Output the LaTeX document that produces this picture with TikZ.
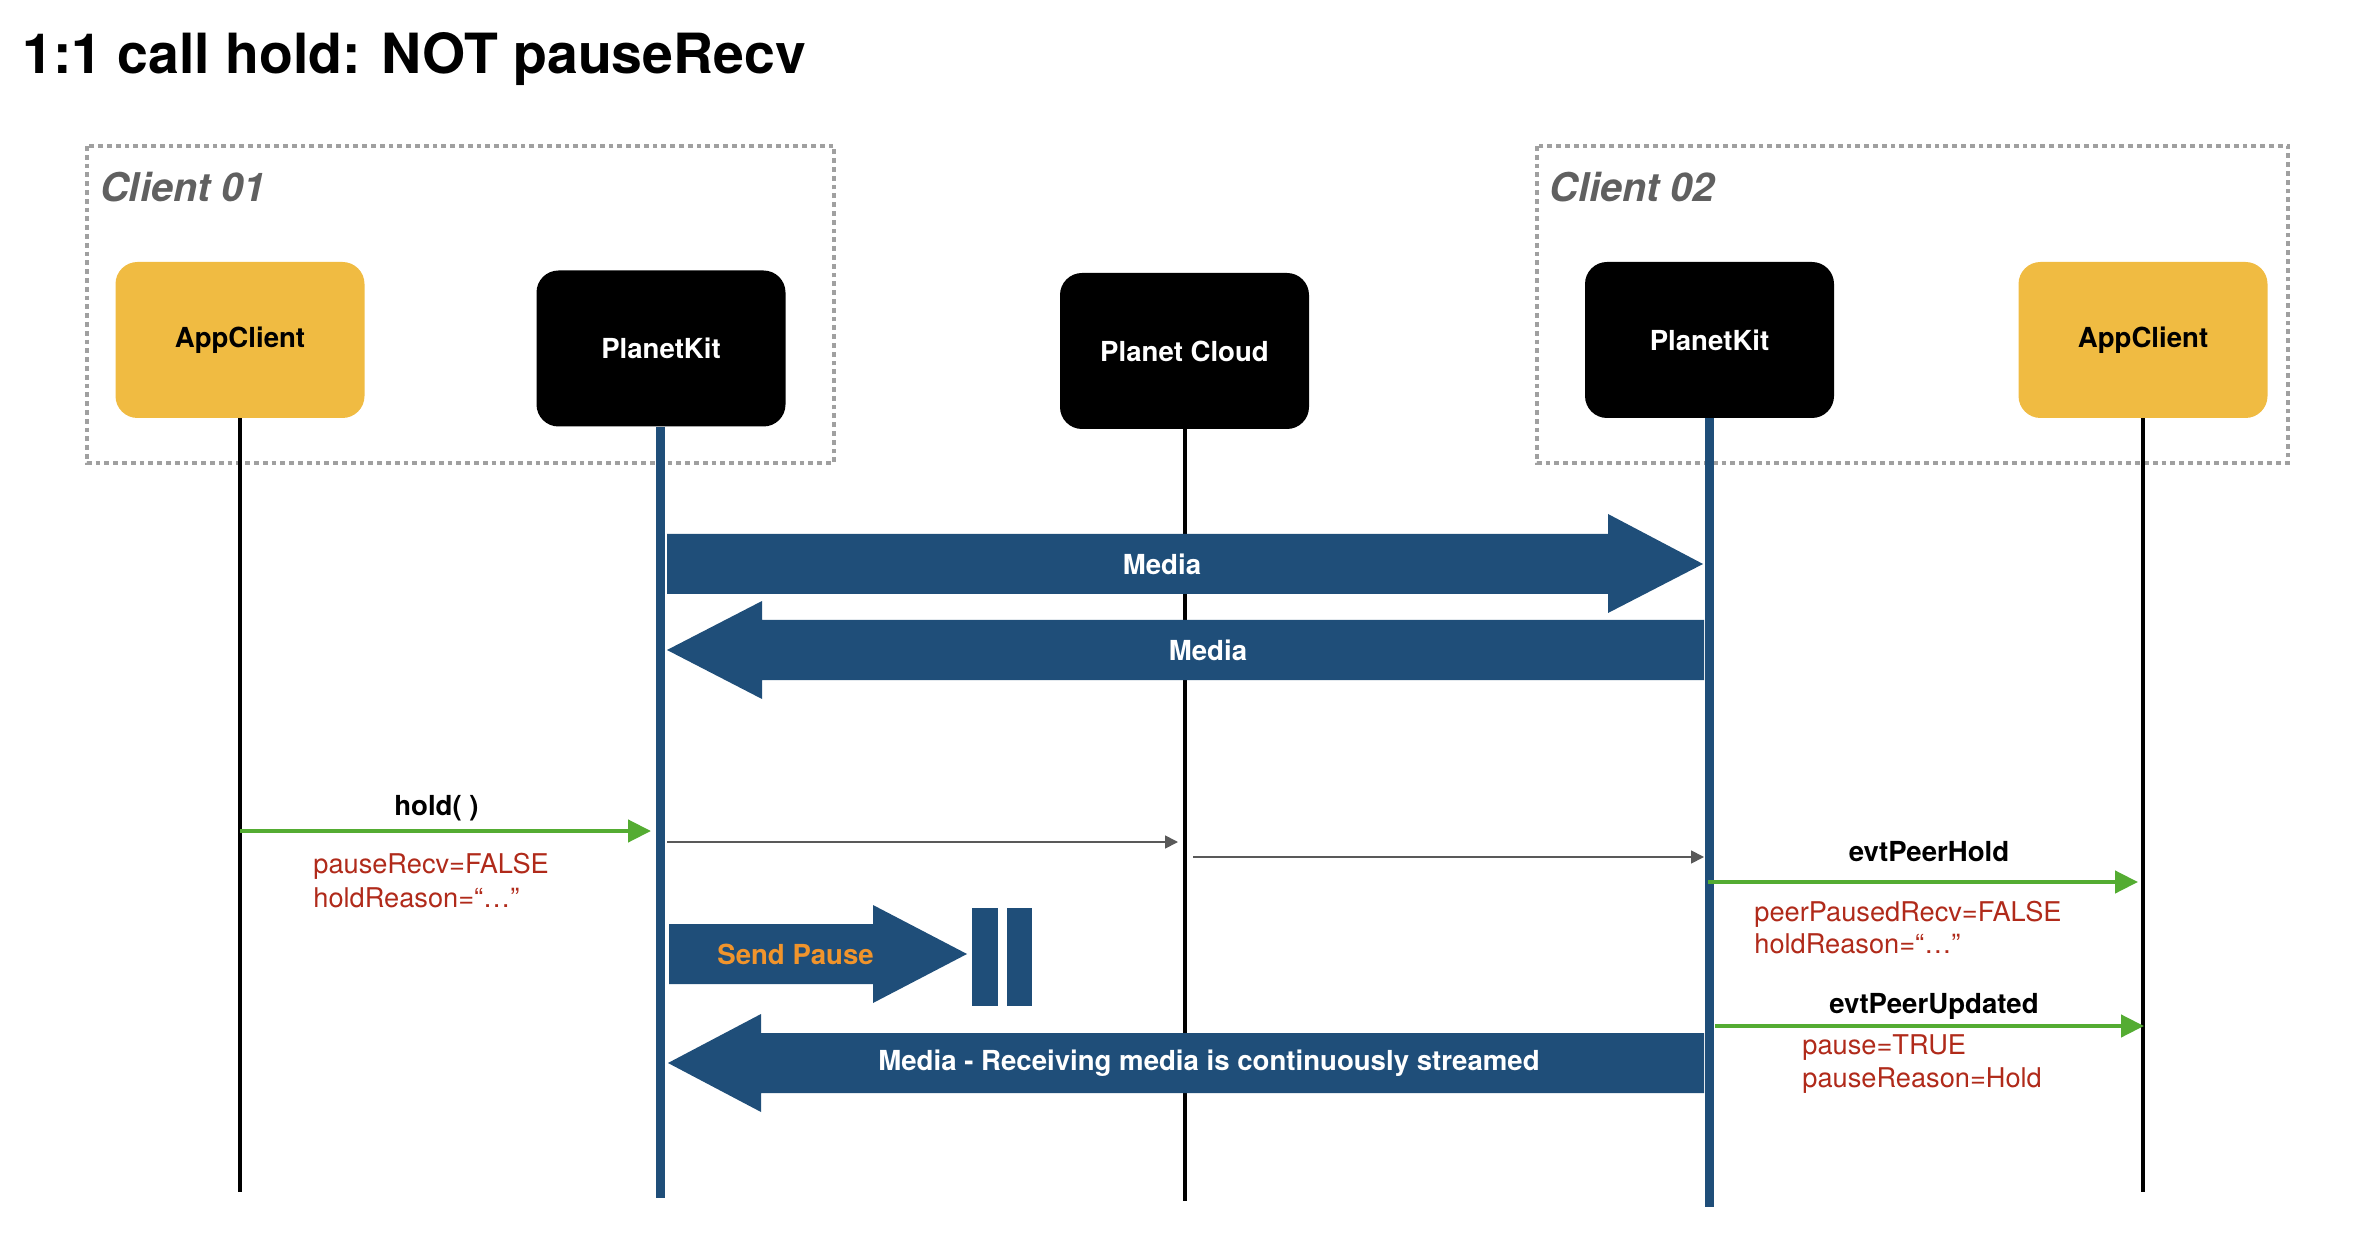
\documentclass[tikz,border=0pt]{standalone}
\usepackage{fontspec}
\setmainfont{TeX Gyre Heros}
\usetikzlibrary{arrows.meta}
\definecolor{pkblue}{RGB}{31,78,121}
\definecolor{appyel}{RGB}{240,187,66}
\definecolor{msggreen}{RGB}{84,172,50}
\definecolor{paramred}{RGB}{176,42,26}
\definecolor{pauseorange}{RGB}{240,148,44}
\definecolor{boxgray}{RGB}{160,160,160}
\definecolor{labgray}{RGB}{96,96,96}
\definecolor{thingray}{RGB}{89,89,89}
\tikzset{
  headbox/.style={rounded corners=11pt, minimum width=124.5pt, minimum height=78pt, inner sep=0pt, font=\fontsize{13.8}{16}\selectfont\bfseries},
  appbox/.style={headbox, fill=appyel, text=black},
  kitbox/.style={headbox, fill=black, text=white},
  blackline/.style={line width=2pt, black},
  blueline/.style={line width=4.5pt, pkblue},
  clientbox/.style={draw=boxgray, line width=1.7pt, dash pattern=on 2.4pt off 2pt},
  clientlab/.style={anchor=base west, inner sep=0pt, text=labgray, font=\fontsize{19.8}{24}\selectfont\bfseries\itshape},
  greenmsg/.style={draw=msggreen, line width=2.2pt, -{Triangle[length=11.5pt,width=11pt]}},
  graymsg/.style={draw=thingray, line width=0.85pt, -{Triangle[length=6.5pt,width=6.5pt]}},
  msglab/.style={anchor=base, inner sep=0pt, font=\fontsize{13.8}{16}\selectfont\bfseries},
  param/.style={anchor=base west, inner sep=0pt, text=paramred, font=\fontsize{13.6}{16}\selectfont},
  blockarrow/.style={fill=pkblue},
  blocklab/.style={inner sep=0pt, text=white, font=\fontsize{13.8}{16}\selectfont\bfseries},
}
\begin{document}
\begin{tikzpicture}[x=0.5pt,y=-0.5pt]
\useasboundingbox (0,0) rectangle (2354,1234);
% title
\node[anchor=base west, inner sep=0pt, font=\fontsize{27.7}{32}\selectfont\bfseries] (title) at (22,74) {1:1 call hold: NOT pauseRecv};
% client groups
\draw[clientbox] (87,146) rectangle (834,463);
\node[clientlab] (c1lab) at (100,202) {Client 01};
\draw[clientbox] (1537,146) rectangle (2288,463);
\node[clientlab] (c2lab) at (1549,202) {Client 02};
% heads
\node[appbox] (ac1) at (240,340) {AppClient};
\node[kitbox] (pk1) at (661,348.5) {PlanetKit};
\node[kitbox] (pc) at (1184.5,351) {Planet Cloud};
\node[kitbox] (pk2) at (1709.5,340) {PlanetKit};
\node[appbox] (ac2) at (2143,340) {AppClient};
% lifeline ends
\coordinate (ac1e) at (240,1192);
\coordinate (pk1e) at (660,1198);
\coordinate (pce) at (1185,1201);
\coordinate (pk2e) at (1709.5,1207);
\coordinate (ac2e) at (2143,1192);
\draw[blackline] (ac1.south) -- (ac1e);
\draw[blueline] (pk1.south -| pk1e) -- (pk1e);
\draw[blackline] (pc.south -| pce) -- (pce);
\draw[blueline] (pk2.south) -- (pk2e);
\draw[blackline] (ac2.south) -- (ac2e);
% media block arrows
\fill[blockarrow] (667,534) -- (1608,534) -- (1608,514) -- (1703,564) -- (1608,613) -- (1608,594) -- (667,594) -- cycle;
\node[blocklab] (media1) at (1162,564) {Media};
\fill[blockarrow] (1704,620) -- (762,620) -- (762,601) -- (667,650) -- (762,699) -- (762,680) -- (1704,680) -- cycle;
\node[blocklab] (media2) at (1208,650) {Media};
% hold()
\coordinate (h1s) at (240,831);
\coordinate (h1e) at (651,831);
\draw[greenmsg] (h1s) -- (h1e);
\node[msglab] (holdlab) at (436.5,815) {hold( )};
\node[param] (p1) at (313,873) {pauseRecv=FALSE};
\node[param] (p2) at (313,907) {holdReason=“…”};
% gray relays
\coordinate (g1s) at (667,842);
\coordinate (g1e) at (1178,842);
\draw[graymsg] (g1s) -- (g1e);
\coordinate (g2s) at (1193,857);
\coordinate (g2e) at (1704,857);
\draw[graymsg] (g2s) -- (g2e);
% evtPeerHold
\coordinate (e1s) at (1708,882);
\coordinate (e1e) at (2138,882);
\draw[greenmsg] (e1s) -- (e1e);
\node[msglab] (ephlab) at (1929,861) {evtPeerHold};
\node[param] (p3) at (1754,921) {peerPausedRecv=FALSE};
\node[param] (p4) at (1754,953) {holdReason=“…”};
% evtPeerUpdated
\coordinate (e2s) at (1715,1026);
\coordinate (e2e) at (2144,1026);
\draw[greenmsg] (e2s) -- (e2e);
\node[msglab] (epulab) at (1934,1013) {evtPeerUpdated};
\node[param] (p5) at (1802,1054) {pause=TRUE};
\node[param] (p6) at (1802,1087) {pauseReason=Hold};
% send pause
\fill[blockarrow] (669,924) -- (873,924) -- (873,905) -- (967,954) -- (873,1003) -- (873,984) -- (669,984) -- cycle;
\node[inner sep=0pt, text=pauseorange, font=\fontsize{13.8}{16}\selectfont\bfseries] (sendpause) at (795.5,954) {Send Pause};
\fill[blockarrow] (972,908) rectangle (998,1006);
\fill[blockarrow] (1007,908) rectangle (1032,1006);
% bottom media
\fill[blockarrow] (1704,1033) -- (761,1033) -- (761,1014) -- (668,1063) -- (761,1112) -- (761,1093) -- (1704,1093) -- cycle;
\node[blocklab] (media3) at (1209,1063) {Media - Receiving media is continuously streamed};
\end{tikzpicture}
\end{document}
